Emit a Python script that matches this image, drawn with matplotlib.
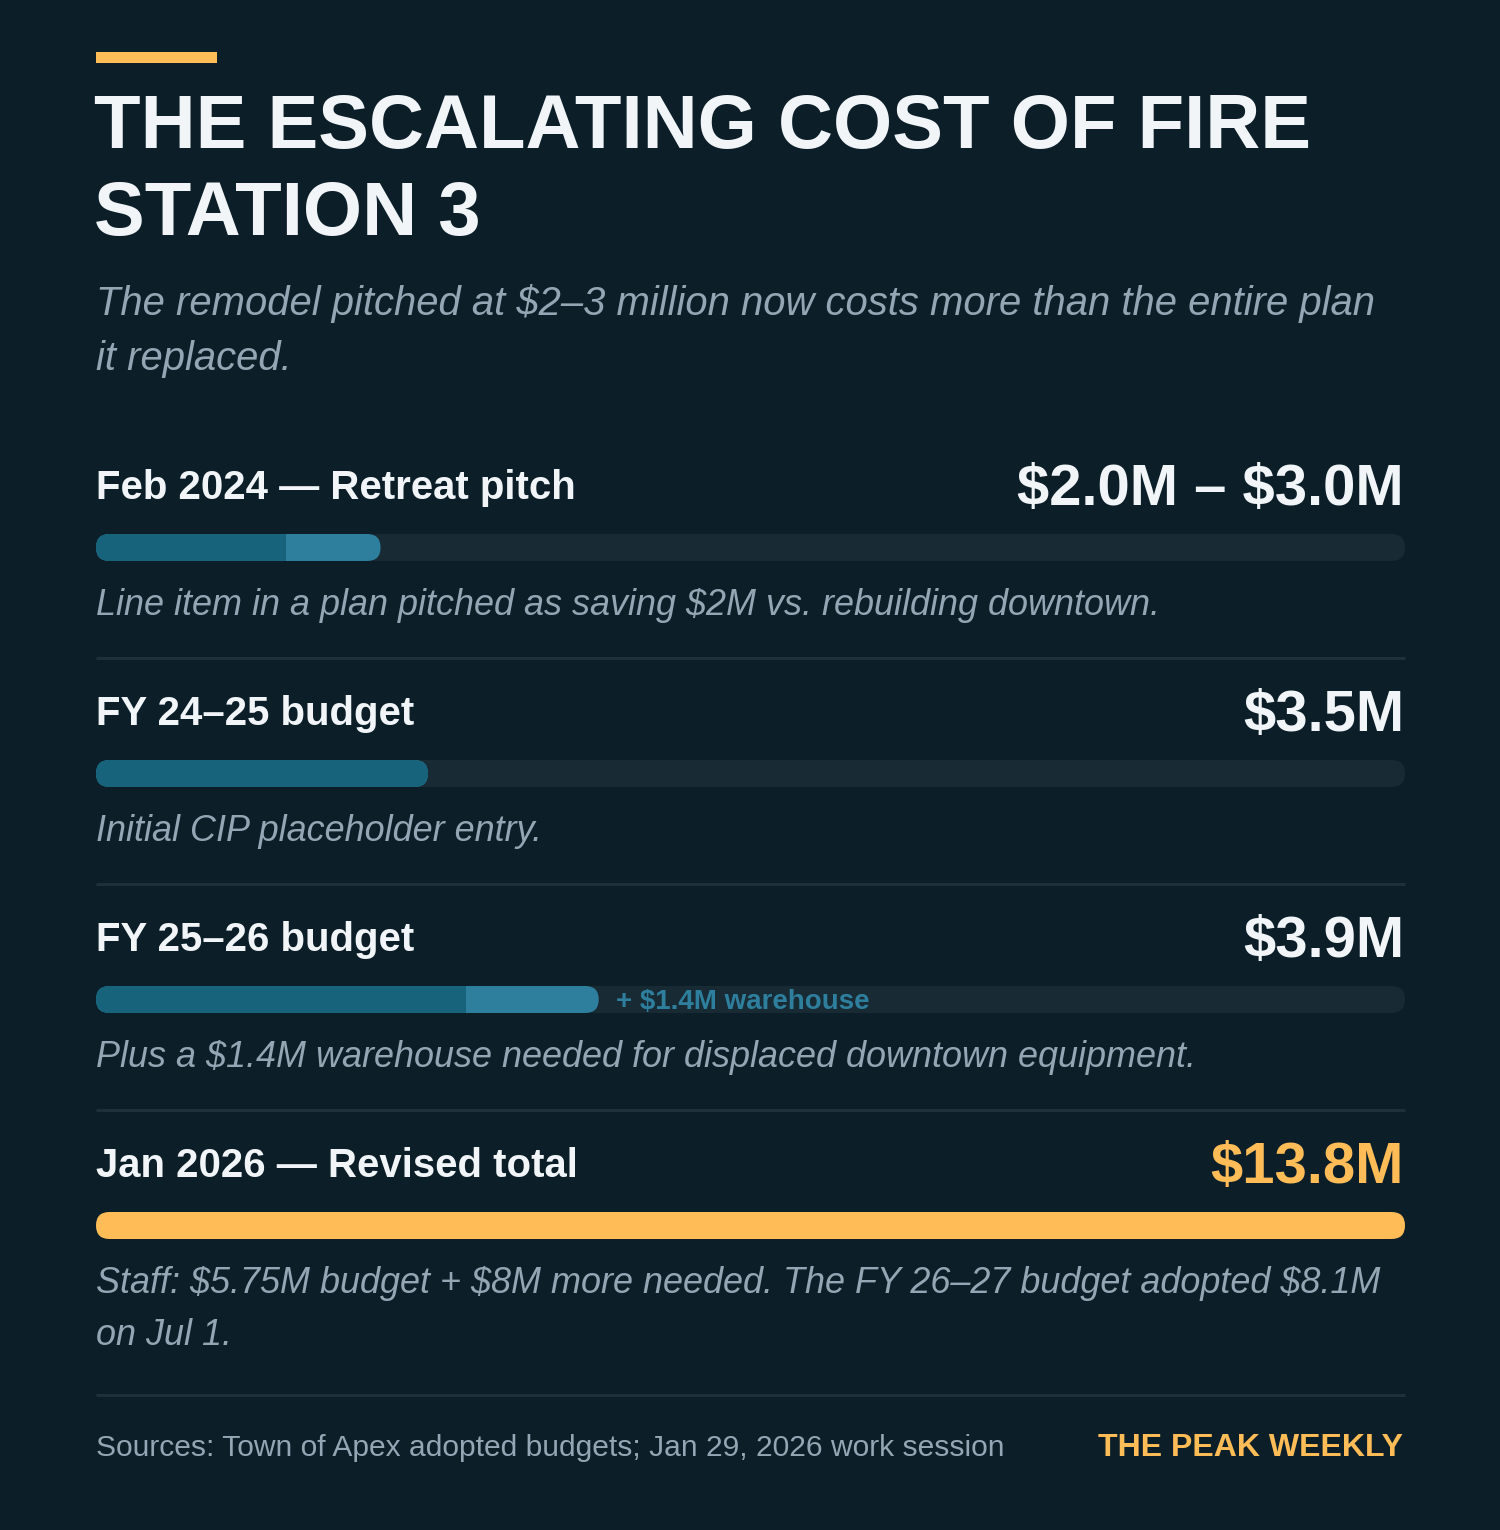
import matplotlib
matplotlib.use("Agg")
import matplotlib.pyplot as plt
from matplotlib.patches import FancyBboxPatch, Rectangle

# --- data ---
row_labels = ["Feb 2024 — Retreat pitch", "FY 24–25 budget", "FY 25–26 budget", "Jan 2026 — Revised total"]
value_labels = ["$2.0M – $3.0M", "$3.5M", "$3.9M", "$13.8M"]
base_values = [2.0, 3.5, 3.9, 13.8]      # $M, first segment
extra_values = [1.0, 0.0, 1.4, 0.0]      # $M, second (lighter) segment
notes = [
    ["Line item in a plan pitched as saving $2M vs. rebuilding downtown."],
    ["Initial CIP placeholder entry."],
    ["Plus a $1.4M warehouse needed for displaced downtown equipment."],
    ["Staff: $5.75M budget + $8M more needed. The FY 26–27 budget adopted $8.1M", "on Jul 1."],
]
extra_tags = [None, None, "+ $1.4M warehouse", None]
scale_max = 13.8

title_lines = ["THE ESCALATING COST OF FIRE", "STATION 3"]
subtitle_lines = ["The remodel pitched at $2–3 million now costs more than the entire plan", "it replaced."]
source = "Sources: Town of Apex adopted budgets; Jan 29, 2026 work session"
brand = "THE PEAK WEEKLY"

# --- colours ---
BG = "#0c1f29"
WHITE = "#f1f5f8"
GRAY = "#92a6b3"
TEAL = "#17637c"
TEAL_LIGHT = "#2e7f9d"
TRACK = "#182a34"
YELLOW = "#ffbc57"
RULE = "#1d303c"

plt.rcParams["font.family"] = ["Liberation Sans", "DejaVu Sans"]

W, H = 1500, 1530
fig = plt.figure(figsize=(W / 100, H / 100), dpi=100, facecolor=BG)
ax = fig.add_axes([0, 0, 1, 1])
ax.set_xlim(0, W)
ax.set_ylim(H, 0)
ax.axis("off")
ax.set_facecolor(BG)

LEFT, RIGHT = 96, 1405


def put(x, y, s, **kw):
    ax.text(x, y, s, va="baseline", parse_math=False, **kw)


# header
ax.add_patch(Rectangle((LEFT, 52), 121, 11, color=YELLOW, lw=0))
for j, line in enumerate(title_lines):
    put(LEFT - 2, 148 + j * 87, line, fontsize=54.8, fontweight="bold", color=WHITE, ha="left")
for j, line in enumerate(subtitle_lines):
    put(LEFT, 315 + j * 55, line, fontsize=28.8, style="italic", color=GRAY, ha="left")

row_top = 499   # baseline of first row label
row_step = 226
bar_h = 27
r_px = bar_h / 2
units_per_px = scale_max / (RIGHT - LEFT)

for i in range(len(row_labels)):
    y0 = row_top + i * row_step
    last = i == len(row_labels) - 1
    put(LEFT, y0, row_labels[i], fontsize=28.9, fontweight="bold", color=WHITE, ha="left")
    put(RIGHT - 1, y0 + 6, value_labels[i], fontsize=41.8, fontweight="bold",
        color=YELLOW if last else WHITE, ha="right")

    bar_top = y0 + 35
    bax = fig.add_axes([LEFT / W, 1 - (bar_top + bar_h) / H, (RIGHT - LEFT) / W, bar_h / H])
    bax.set_xlim(0, scale_max)
    bax.set_ylim(0, 1)
    bax.axis("off")
    aspect = 1 / (bar_h * units_per_px)
    rs = r_px * units_per_px
    track = FancyBboxPatch((0, 0), scale_max, 1, boxstyle=f"round,pad=0,rounding_size={rs}",
                           mutation_aspect=aspect, fc=TRACK, ec="none", clip_on=False)
    bax.add_patch(track)
    total = base_values[i] + extra_values[i]
    fill = FancyBboxPatch((0, 0), total, 1, boxstyle=f"round,pad=0,rounding_size={rs}",
                          mutation_aspect=aspect, fc=YELLOW if last else TEAL_LIGHT,
                          ec="none", clip_on=False)
    bax.add_patch(fill)
    if not last:
        seg = Rectangle((0, 0), base_values[i], 1, fc=TEAL, ec="none")
        bax.add_patch(seg)
        seg.set_clip_path(fill)
    if extra_tags[i]:
        bax.annotate(extra_tags[i], xy=(total, 0.5), xytext=(12.5, -1.5),
                     textcoords="offset points", fontsize=20, fontweight="bold",
                     color=TEAL_LIGHT, va="center", ha="left", annotation_clip=False,
                     parse_math=False)

    for j, line in enumerate(notes[i]):
        put(LEFT, y0 + 116 + j * 52, line, fontsize=25.9, style="italic", color=GRAY, ha="left")
    # separator
    sep_y = 658 + i * row_step if not last else 1395
    ax.plot([LEFT, RIGHT], [sep_y, sep_y], color=RULE, lw=2.2, solid_capstyle="butt")

# footer
put(LEFT, 1456, source, fontsize=21.6, color=GRAY, ha="left")
put(RIGHT - 2, 1456, brand, fontsize=23, fontweight="bold", color=YELLOW, ha="right")

fig.savefig("out.png", dpi=100, facecolor=BG)
